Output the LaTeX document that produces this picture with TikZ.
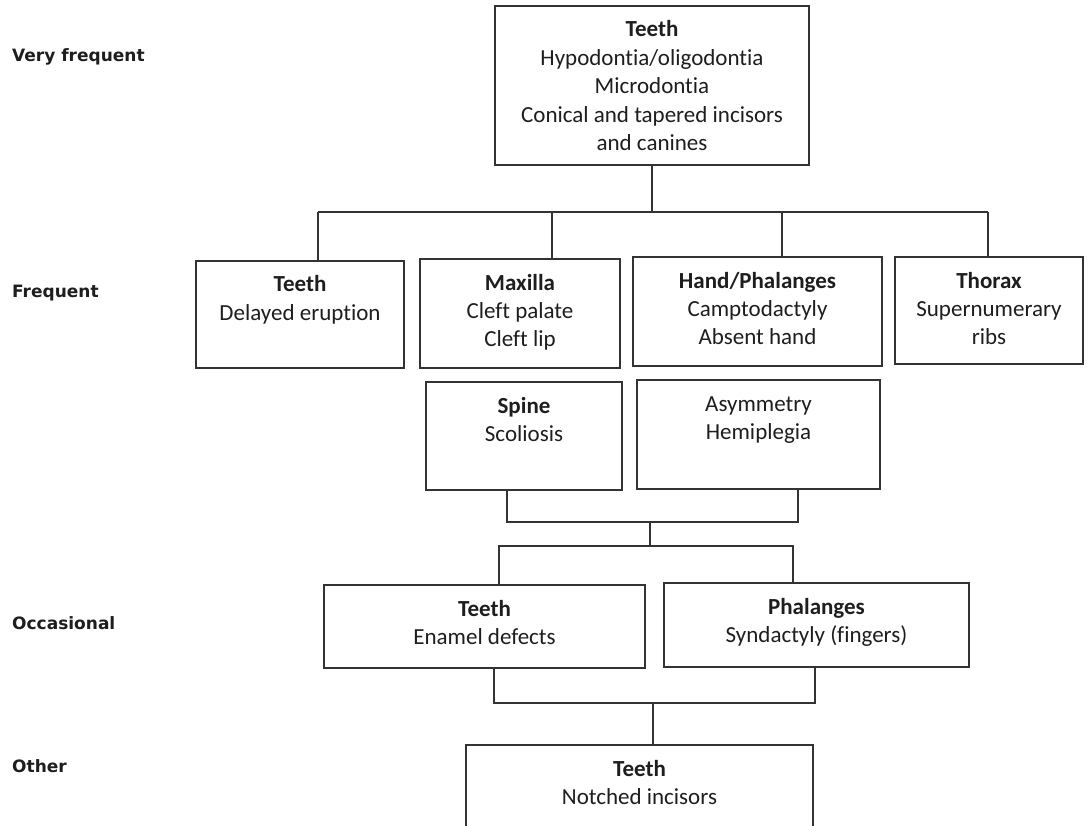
\documentclass[tikz,border=0pt]{standalone}
\usepackage{fontspec}
\setmainfont[Ligatures=NoCommon]{Carlito}
\newfontfamily\levelfont{DejaVu Sans}
\definecolor{ink}{HTML}{1E1E1E}
\definecolor{rule}{HTML}{333333}
\newcommand\bodyfont{\fontsize{23}{28.4}\selectfont}
\newcommand\levelsize{\fontsize{17}{20}\selectfont}
% box from (x1,y1) to (x2,y2) in pixel units, text hung from the top edge
\newcommand\tbox[6]{%
  \node[box, minimum width={(#4-#2)*1pt}, minimum height={(#5-#3)*1pt}]
    (#1) at ({(#2+#4)/2},{(#3+#5)/2}) {};
  \node[boxtext] (#1-t) at ([yshift=-14.5pt]#1.north) {\rule{0pt}{17pt}#6};}
\begin{document}
\begin{tikzpicture}[x=1pt,y=-1pt,
  box/.style={draw=rule, line width=1.4pt, rectangle, inner sep=0pt},
  boxtext/.style={anchor=north, inner sep=0pt, align=center, font=\bodyfont, text=ink},
  level/.style={anchor=base west, inner sep=0pt, font=\levelfont\levelsize\bfseries, text=ink},
  link/.style={draw=rule, line width=1.4pt}]
\clip (0,0) rectangle (1092,826);
\fill[white] (0,0) rectangle (1092,826);

% frequency levels
\node[level] (lv1) at (12,62)  {Very frequent};
\node[level] (lv2) at (12,298) {Frequent};
\node[level] (lv3) at (12,629) {Occasional};
\node[level] (lv4) at (12,772) {Other};

% very frequent
\tbox{top}{495}{6}{809}{165}{\textbf{Teeth}\\Hypodontia/oligodontia\\Microdontia\\Conical and tapered incisors\\and canines}

% frequent
\tbox{teethA}{196}{261}{404}{368}{\textbf{Teeth}\\Delayed eruption}
\tbox{maxilla}{420}{259}{620}{368}{\textbf{Maxilla}\\Cleft palate\\Cleft lip}
\tbox{hand}{633}{257}{882}{366}{\textbf{Hand/Phalanges}\\Camptodactyly\\Absent hand}
\tbox{thorax}{895}{257}{1083}{364}{\textbf{Thorax}\\Supernumerary\\ribs}
\tbox{spine}{426}{382}{622}{490}{\textbf{Spine}\\Scoliosis}
\tbox{asym}{637}{380}{880}{489}{Asymmetry\\Hemiplegia}

% occasional
\tbox{enamel}{324}{585}{645}{668}{\textbf{Teeth}\\Enamel defects}
\tbox{phal}{664}{583}{969}{667}{\textbf{Phalanges}\\Syndactyly (fingers)}

% other
\tbox{notched}{466}{745}{813}{850}{\textbf{Teeth}\\Notched incisors}

% junction points
\coordinate (r1) at (318,212);
\coordinate (r2) at (552,212);
\coordinate (r3) at (782,212);
\coordinate (r4) at (988,212);
\coordinate (s1) at (507,522);
\coordinate (s2) at (798,522);
\coordinate (s3) at (650,522);
\coordinate (o1) at (499,546);
\coordinate (o2) at (793,546);
\coordinate (e1) at (494,703);
\coordinate (e2) at (815,703);
\coordinate (e3) at (653,703);

% connectors
\draw[link] (top.south) -- (top.south |- r1);
\draw[link] (r1) -- (r4);
\draw[link] (r1) -- (r1 |- teethA.north);
\draw[link] (r2) -- (r2 |- maxilla.north);
\draw[link] (r3) -- (r3 |- hand.north);
\draw[link] (r4) -- (r4 |- thorax.north);

\draw[link] (s1 |- spine.south) -- (s1) -- (s2) -- (s2 |- asym.south);
\draw[link] (s3) -- (s3 |- o1);
\draw[link] (o1 |- enamel.north) -- (o1) -- (o2) -- (o2 |- phal.north);

\draw[link] (e1 |- enamel.south) -- (e1) -- (e2) -- (e2 |- phal.south);
\draw[link] (e3) -- (e3 |- notched.north);
\end{tikzpicture}
\end{document}
